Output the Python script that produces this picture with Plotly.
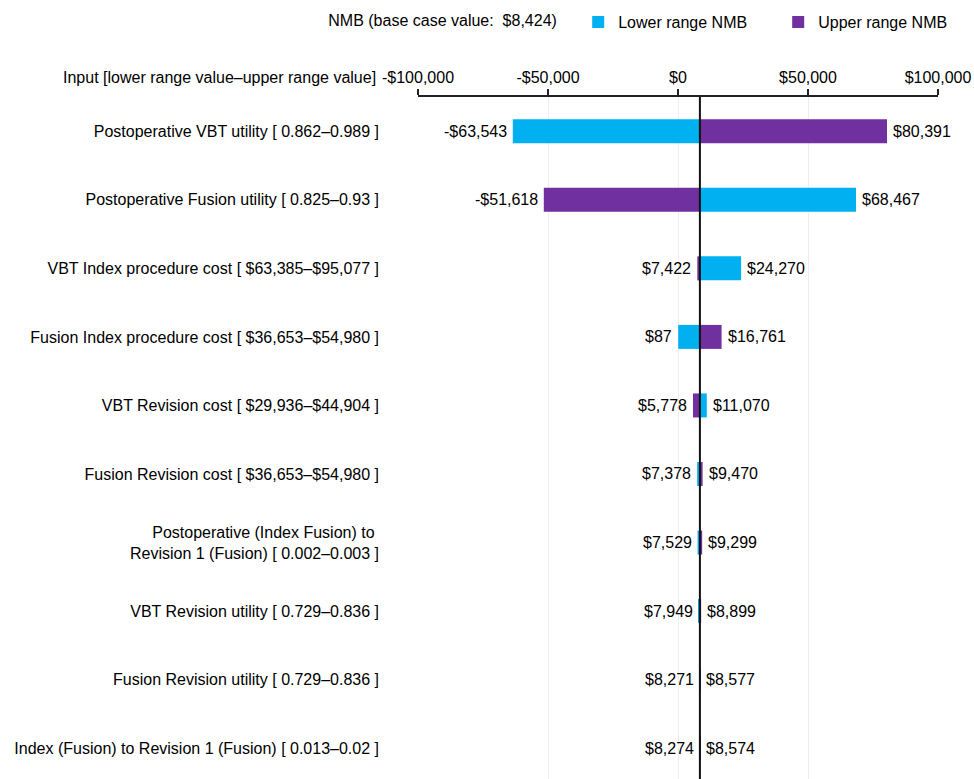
import plotly.graph_objects as go

base_value = 8424
inputs = [
    "Postoperative VBT utility [ 0.862–0.989 ]",
    "Postoperative Fusion utility [ 0.825–0.93 ]",
    "VBT Index procedure cost [ $63,385–$95,077 ]",
    "Fusion Index procedure cost [ $36,653–$54,980 ]",
    "VBT Revision cost [ $29,936–$44,904 ]",
    "Fusion Revision cost [ $36,653–$54,980 ]",
    "Postoperative (Index Fusion) to\u00a0<br>Revision 1 (Fusion) [ 0.002–0.003 ]",
    "VBT Revision utility [ 0.729–0.836 ]",
    "Fusion Revision utility [ 0.729–0.836 ]",
    "Index (Fusion) to Revision 1 (Fusion) [ 0.013–0.02 ]",
]
lower_nmb = [-63543, 68467, 24270, 87, 11070, 7378, 7529, 7949, 8577, 8274]
upper_nmb = [80391, -51618, 7422, 16761, 5778, 9470, 9299, 8899, 8271, 8574]
x_ticks = [-100000, -50000, 0, 50000, 100000]
x_tick_labels = ["-$100,000", "-$50,000", "$0", "$50,000", "$100,000"]

CYAN = "#00B0F0"
PURPLE = "#7030A0"
FONT = "Liberation Sans, Arial, sans-serif"
FS = 16

def money(v):
    return ("-$" if v < 0 else "$") + f"{abs(v):,}"

fig = go.Figure()
fig.add_trace(go.Bar(
    name="Lower range NMB", y=inputs, x=[v - base_value for v in lower_nmb],
    base=base_value, orientation="h", marker=dict(color=CYAN, line=dict(width=0)),
    width=0.35, hoverinfo="skip",
))
fig.add_trace(go.Bar(
    name="Upper range NMB", y=inputs, x=[v - base_value for v in upper_nmb],
    base=base_value, orientation="h", marker=dict(color=PURPLE, line=dict(width=0)),
    width=0.35, hoverinfo="skip",
))

annotations = []
for cat, lo, up in zip(inputs, lower_nmb, upper_nmb):
    left, right = min(lo, up), max(lo, up)
    annotations.append(dict(x=left, y=cat, xref="x", yref="y", text=money(left),
                            showarrow=False, xanchor="right", xshift=-4,
                            font=dict(size=FS, color="#000", family=FONT)))
    annotations.append(dict(x=right, y=cat, xref="x", yref="y", text=money(right),
                            showarrow=False, xanchor="left", xshift=4,
                            font=dict(size=FS, color="#000", family=FONT)))
annotations.append(dict(x=0, y=1, xref="paper", yref="paper",
                        text="Input [lower range value–upper range value]",
                        showarrow=False, xanchor="right", yanchor="middle",
                        xshift=-40, yshift=20,
                        font=dict(size=FS, color="#000", family=FONT)))

fig.update_layout(
    width=974, height=779,
    margin=dict(l=418, r=36, t=97, b=0),
    paper_bgcolor="white", plot_bgcolor="white",
    barmode="overlay",
    font=dict(family=FONT, size=FS, color="#000"),
    showlegend=True,
    legend=dict(orientation="h", x=0.335, xref="container", xanchor="left",
                y=0.9936, yref="container", yanchor="top",
                title=dict(text="NMB (base case value:  $8,424)\u00a0\u00a0\u00a0",
                           side="left", font=dict(size=FS)),
                font=dict(size=FS), itemwidth=30, traceorder="normal",
                entrywidth=155, entrywidthmode="pixels",
                bgcolor="rgba(0,0,0,0)"),
    xaxis=dict(side="top", range=[-100000, 100000], tickvals=x_ticks,
               ticktext=x_tick_labels, showgrid=True, gridcolor="#eeeeee",
               gridwidth=1, zeroline=False, showline=True, linecolor="#222",
               linewidth=2, ticks="outside", ticklen=6, tickwidth=2,
               tickcolor="#222", tickfont=dict(size=FS), automargin=False),
    yaxis=dict(range=[9.45, -0.5], showgrid=False, zeroline=False,
               showline=False, ticks="", ticklabelstandoff=38,
               tickfont=dict(size=FS), automargin=False),
    annotations=annotations,
    shapes=[dict(type="line", xref="x", yref="paper", x0=base_value, x1=base_value,
                 y0=0, y1=1, line=dict(color="#111", width=2))],
)

fig.write_html("out.html", config={"displayModeBar": False},
               post_script="document.body.style.margin='0';")
